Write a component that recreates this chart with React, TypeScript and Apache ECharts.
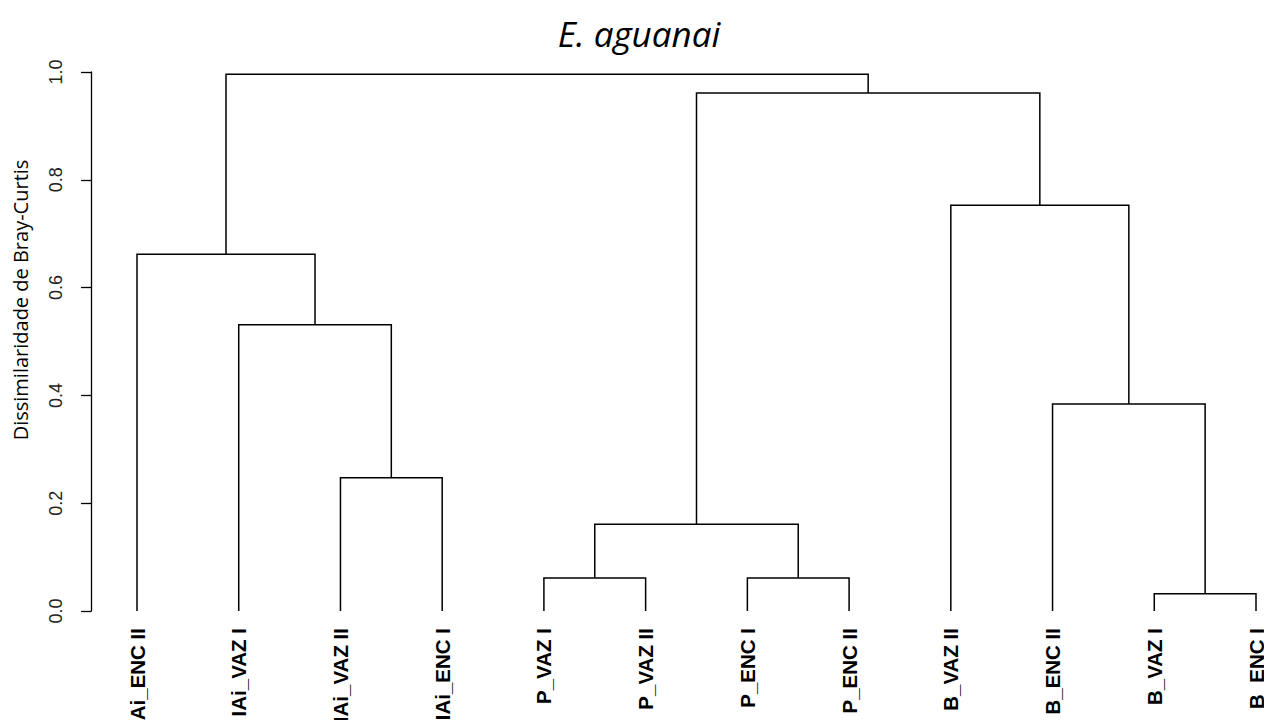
import React, { useEffect, useRef } from "react";
import * as echarts from "echarts";

// Leaf labels in dendrogram order (left to right)
const leafLabels = [
  "IAi_ENC II",
  "IAi_VAZ I",
  "IAi_VAZ II",
  "IAi_ENC I",
  "P_VAZ I",
  "P_VAZ II",
  "P_ENC I",
  "P_ENC II",
  "B_VAZ II",
  "B_ENC II",
  "B_VAZ I",
  "B_ENC I",
];

// hclust-style merge table: negative = leaf (1-based position), positive = earlier merge row (1-based)
const mergeLeft = [-3, -2, -1, -5, -7, 4, -11, -10, -9, 6, 3];
const mergeRight = [-4, 1, 2, -6, -8, 5, -12, 7, 8, 9, 10];
const mergeHeights = [0.247, 0.531, 0.662, 0.061, 0.061, 0.161, 0.032, 0.384, 0.753, 0.961, 0.996];

const yTicks = [0, 0.2, 0.4, 0.6, 0.8, 1.0];

const titleText = "E. aguanai";
const yAxisTitle = "Dissimilaridade de Bray-Curtis";

function buildSegments() {
  const nodeX: number[] = [];
  const nodeH: number[] = [];
  const out: number[][] = [];
  const child = (c: number) =>
    c < 0 ? { x: -c, h: 0 } : { x: nodeX[c - 1], h: nodeH[c - 1] };
  for (let i = 0; i < mergeHeights.length; i++) {
    const l = child(mergeLeft[i]);
    const r = child(mergeRight[i]);
    const h = mergeHeights[i];
    nodeX[i] = (l.x + r.x) / 2;
    nodeH[i] = h;
    out.push([l.x, l.h, r.x, r.h, h]);
  }
  return out;
}

export default function App() {
  const ref = useRef<HTMLDivElement>(null);
  useEffect(() => {
    document.body.style.margin = "0";
    if (!ref.current) return;
    const chart = echarts.init(ref.current, undefined, { renderer: "svg" });
    const segments = buildSegments();
    chart.setOption({
      animation: false,
      backgroundColor: "#ffffff",
      grid: {
        left: 137,
        right: 8,
        top: 72,
        bottom: 109,
        containLabel: false,
        outerBoundsMode: "none",
      },
      graphic: [
        {
          type: "text",
          x: 639,
          y: 33,
          style: {
            text: titleText,
            fontFamily: "Open Sans",
            fontStyle: "italic",
            fontSize: 35,
            fill: "#000",
            textAlign: "center",
            textVerticalAlign: "middle",
          },
        },
        {
          type: "text",
          x: 20,
          y: 300,
          rotation: Math.PI / 2,
          style: {
            text: yAxisTitle,
            fontFamily: "Open Sans",
            fontSize: 20,
            fill: "#000",
            textAlign: "center",
            textVerticalAlign: "middle",
          },
        },
      ],
      xAxis: {
        type: "value",
        min: 1,
        max: 12,
        interval: 1,
        axisLine: { show: false },
        axisTick: { show: false },
        splitLine: { show: false },
        axisLabel: {
          rotate: 90,
          margin: 17,
          fontFamily: "Liberation Sans",
          fontWeight: "bold",
          fontSize: 20.5,
          color: "#000",
          showMinLabel: true,
          showMaxLabel: true,
          formatter: (v: number) => leafLabels[Math.round(v) - 1] ?? "",
        },
      },
      yAxis: {
        type: "value",
        min: yTicks[0],
        max: yTicks[yTicks.length - 1],
        interval: 0.2,
        offset: 46,
        axisLine: { show: true, lineStyle: { color: "#000", width: 1.3 } },
        axisTick: { show: true, length: 10, lineStyle: { color: "#000", width: 1.3 } },
        splitLine: { show: false },
        axisLabel: {
          rotate: 90,
          margin: 26,
          fontFamily: "Liberation Sans",
          fontSize: 18,
          color: "#222",
          formatter: (v: number) => v.toFixed(1),
        },
      },
      series: [
        {
          type: "custom",
          data: segments,
          clip: false,
          renderItem: (_params: any, api: any) => {
            const xl = api.value(0);
            const hl = api.value(1);
            const xr = api.value(2);
            const hr = api.value(3);
            const h = api.value(4);
            const p1 = api.coord([xl, hl]);
            const p2 = api.coord([xl, h]);
            const p3 = api.coord([xr, h]);
            const p4 = api.coord([xr, hr]);
            return {
              type: "polyline",
              shape: { points: [p1, p2, p3, p4] },
              style: { stroke: "#000", lineWidth: 1.5, fill: "none" },
            };
          },
          encode: { x: [0, 2], y: [1, 3, 4] },
        },
      ],
    });
    return () => chart.dispose();
  }, []);
  return <div ref={ref} style={{ width: 1264, height: 720 }} />;
}
